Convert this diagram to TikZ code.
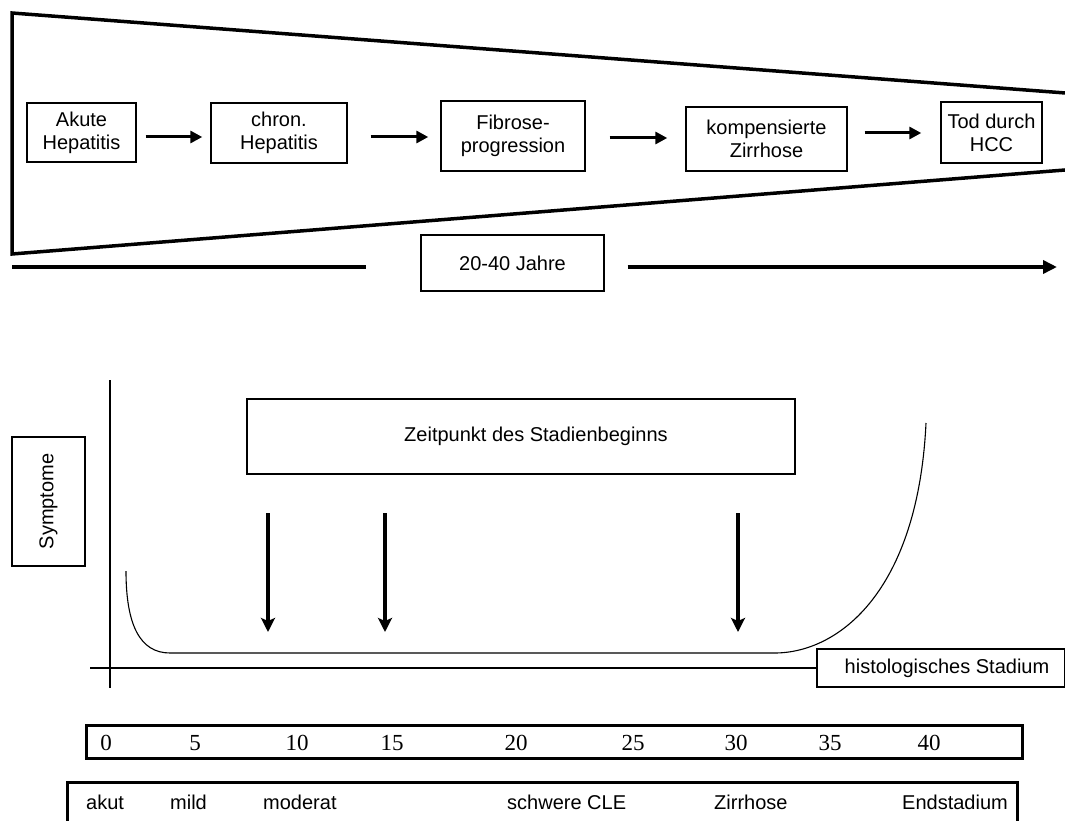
\documentclass[tikz,border=0pt]{standalone}
\usepackage{fontspec}
\setmainfont{Liberation Sans}
\newfontfamily\numfont{Liberation Serif}
\usetikzlibrary{arrows.meta}
\tikzset{
  x=1pt, y=-1pt,
  box/.style={draw, line width=1.4pt, inner sep=0pt, align=center, font=\fontsize{20}{23}\selectfont},
  flow/.style={line width=3pt, -{Triangle[length=12pt,width=12pt]}},
  heavy/.style={line width=3.5pt},
  axis/.style={line width=1.5pt},
  curve/.style={line width=1.1pt},
  down/.style={line width=3.2pt, -{Stealth[length=14pt,width=14pt,inset=3pt]}},
  lbl/.style={font=\fontsize{20}{23}\selectfont, anchor=base west, inner sep=0pt},
  num/.style={font=\numfont\fontsize{23}{25}\selectfont, anchor=base, inner sep=0pt},
  frame/.style={draw, line width=3pt, inner sep=0pt}
}
\begin{document}
\begin{tikzpicture}
\useasboundingbox (0,0) rectangle (1065,821);
\clip (0,0) rectangle (1065,821);
\fill[white] (0,0) rectangle (1065,821);

% funnel
\draw[heavy] (1080,94.1) -- (12,13) -- (12,254) -- (1080,168.8);

% stage boxes
\node[box, minimum width=109pt, minimum height=59pt] (akute) at (81.5,132.5) {Akute\\Hepatitis};
\node[box, minimum width=136pt, minimum height=60pt] (chron) at (279,133) {chron.\\Hepatitis};
\node[box, minimum width=144pt, minimum height=70pt] (fib) at (513,136) {Fibrose-\\progression};
\node[box, minimum width=161pt, minimum height=64pt] (komp) at (766.5,139) {kompensierte\\Zirrhose};
\node[box, minimum width=101pt, minimum height=61pt] (tod) at (991.5,132.5) {Tod durch\\HCC};

\path ([shift={(9,4.5)}]akute.east) coordinate (f1);
\path ([shift={(23,4)}]chron.east) coordinate (f2);
\path ([shift={(24,2)}]fib.east) coordinate (f3);
\path ([shift={(17,-6)}]komp.east) coordinate (f4);
\draw[flow] (f1) -- ([xshift=-8pt]chron.west |- f1);
\draw[flow] (f2) -- ([xshift=-12pt]fib.west |- f2);
\draw[flow] (f3) -- ([xshift=-18pt]komp.west |- f3);
\draw[flow] (f4) -- ([xshift=-19pt]tod.west |- f4);

% time span
\node[box, minimum width=183pt, minimum height=56pt] (jahre) at (512.5,263) {20-40 Jahre};
\coordinate (tl0) at (12,267);
\coordinate (tl1) at (1057,267);
\draw[heavy] (tl0) -- ([xshift=-54pt]jahre.west |- tl0);
\draw[heavy, -{Triangle[length=14pt,width=13pt]}] ([xshift=23pt]jahre.east |- tl0) -- (tl1);

% lower chart
\coordinate (yt) at (110,380);
\coordinate (yb) at (110,688);
\coordinate (xl) at (90,668);
\draw[axis] (yt) -- (yb);
\node[box, minimum width=248pt, minimum height=38pt] (hist) at (941,668) {\hspace*{12pt}histologisches Stadium};
\draw[axis] (xl) -- (hist.west |- xl);

\node[box, rotate=90, minimum width=129pt, minimum height=73pt] (sym) at (48.5,501.5) {Symptome};
\node[box, minimum width=548pt, minimum height=75pt] (zeit) at (521,436.5) {\hspace*{30pt}Zeitpunkt des Stadienbeginns};

\draw[curve] (126,571) .. controls (126,625) and (140,653) .. (170,653) -- (776,653)
  .. controls (840,652) and (918,590) .. (926,423);

\coordinate (a1s) at (268,513); \coordinate (a1e) at (268,632);
\coordinate (a2s) at (385,513); \coordinate (a2e) at (385,632);
\coordinate (a3s) at (738,513); \coordinate (a3e) at (738,632);
\draw[down] (a1s) -- (a1e);
\draw[down] (a2s) -- (a2e);
\draw[down] (a3s) -- (a3e);

% scale
\node[frame, minimum width=936pt, minimum height=33pt] (scale) at (554,741.5) {};
\foreach \v/\x in {0/106,5/195,10/297,15/392,20/516,25/633,30/736,35/830,40/929}
  \node[num] (n\v) at (\x,750) {\v};

% stages
\node[frame, minimum width=950pt, minimum height=70pt] (stages) at (542,817) {};
\node[lbl] (s1) at (86,809) {akut};
\node[lbl] (s2) at (170,809) {mild};
\node[lbl] (s3) at (263,809) {moderat};
\node[lbl] (s4) at (507,809) {schwere CLE};
\node[lbl] (s5) at (714,809) {Zirrhose};
\node[lbl] (s6) at (902,809) {Endstadium};
\end{tikzpicture}
\end{document}
